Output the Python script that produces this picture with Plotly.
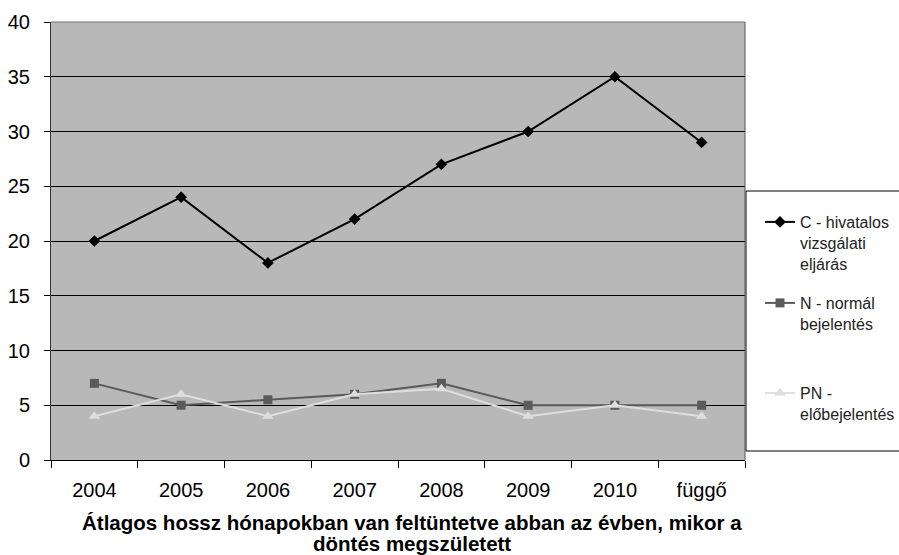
import plotly.graph_objects as go

categories = ["2004", "2005", "2006", "2007", "2008", "2009", "2010", "függő"]
c_values = [20, 24, 18, 22, 27, 30, 35, 29]
n_values = [7, 5, 5.5, 6, 7, 5, 5, 5]
pn_values = [4, 6, 4, 6, 6.5, 4, 5, 4]
y_ticks = [0, 5, 10, 15, 20, 25, 30, 35, 40]

names = ["C - hivatalos<br>vizsgálati<br>eljárás", "N - normál<br>bejelentés", "PN -<br>előbejelentés"]
title_lines = ["Átlagos hossz hónapokban van feltüntetve abban az évben, mikor a", "döntés megszületett"]

FONT = "Liberation Sans, Arial, sans-serif"

fig = go.Figure()
fig.add_trace(go.Scatter(x=categories, y=c_values, name=names[0], mode="lines+markers",
                         line=dict(color="#000000", width=2),
                         marker=dict(symbol="diamond", size=9, color="#000000"), legend="legend"))
fig.add_trace(go.Scatter(x=categories, y=n_values, name=names[1], mode="lines+markers",
                         line=dict(color="#5a5a5a", width=2),
                         marker=dict(symbol="square", size=9, color="#5a5a5a"), legend="legend2"))
fig.add_trace(go.Scatter(x=categories, y=pn_values, name=names[2], mode="lines+markers",
                         line=dict(color="#dedede", width=2),
                         marker=dict(symbol="triangle-up", size=10, color="#dedede"), legend="legend3"))

W, H = 899, 555
L, R, T, B = 51, 154, 22, 95
pw, ph = W - L - R, H - T - B

def px_x(x):
    return (x - L) / pw

def px_y(y):
    return (H - B - y) / ph

legend_common = dict(bgcolor="rgba(0,0,0,0)", borderwidth=0, font=dict(family=FONT, size=16, color="#222"),
                     xanchor="left", yanchor="top", valign="top", itemwidth=30)

fig.update_layout(
    width=W, height=H,
    margin=dict(l=L, r=R, t=T, b=B, autoexpand=False),
    paper_bgcolor="white", plot_bgcolor="#b8b8b8",
    font=dict(family=FONT, size=20, color="#000"),
    showlegend=True,
    legend=dict(x=px_x(760), y=px_y(205), **legend_common),
    legend2=dict(x=px_x(760), y=px_y(286), **legend_common),
    legend3=dict(x=px_x(760), y=px_y(376), **legend_common),
    xaxis=dict(type="category", tickson="boundaries", ticks="outside", ticklen=7, tickcolor="#000",
               showline=True, linecolor="#000", linewidth=1, showgrid=False,
               tickfont=dict(size=20), ticklabelstandoff=12,
               range=[-0.5, 7.5], fixedrange=True),
    yaxis=dict(range=[0, 40], tickvals=y_ticks, ticks="outside", ticklen=6, tickcolor="#000",
               showline=True, linecolor="#333", linewidth=1, showgrid=True, gridcolor="#000", gridwidth=1,
               tickfont=dict(size=20), ticklabelstandoff=10, zeroline=False, fixedrange=True),
    shapes=[
        dict(type="line", xref="paper", yref="paper", x0=0, x1=1, y0=1, y1=1, line=dict(color="#777", width=1)),
        dict(type="line", xref="paper", yref="paper", x0=1, x1=1, y0=0, y1=1, line=dict(color="#555", width=1)),
        dict(type="rect", xref="paper", yref="paper", x0=px_x(746), x1=px_x(910), y0=px_y(451), y1=px_y(191),
             line=dict(color="#000", width=1), fillcolor="rgba(0,0,0,0)", layer="below"),
    ],
    annotations=[
        dict(text="<b>%s</b>" % title_lines[0], xref="paper", yref="paper", x=px_x(412), y=px_y(522),
             xanchor="center", yanchor="middle", showarrow=False, font=dict(family=FONT, size=20.5, color="#000")),
        dict(text="<b>%s</b>" % title_lines[1], xref="paper", yref="paper", x=px_x(412), y=px_y(543),
             xanchor="center", yanchor="middle", showarrow=False, font=dict(family=FONT, size=20.5, color="#000")),
    ],
)

fig.write_html("out.html", config={"displayModeBar": False},
               post_script="document.body.style.margin='0';document.documentElement.style.overflow='hidden';")
